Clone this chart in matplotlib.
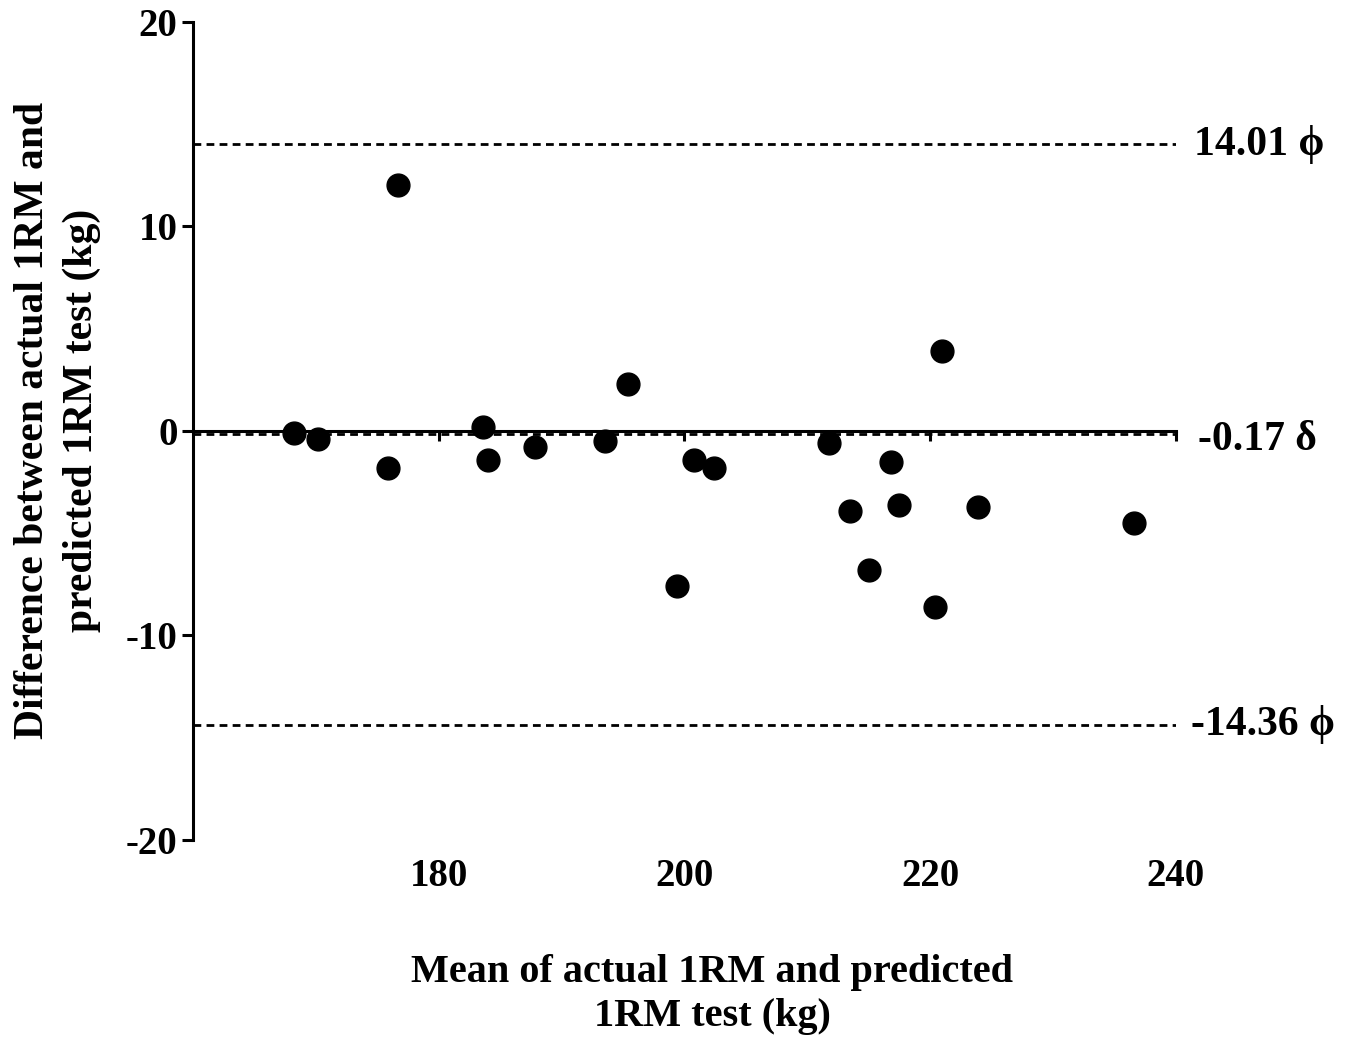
import matplotlib
matplotlib.use("Agg")
import matplotlib.pyplot as plt

plt.rcParams['font.family'] = ['Liberation Serif', 'DejaVu Serif']
plt.rcParams['font.weight'] = 'bold'

# Bland-Altman data
mean_kg = [168.2, 170.2, 175.9, 176.7, 183.6, 184.0, 187.8, 193.5, 195.4, 199.4, 200.8,
           202.4, 211.8, 213.5, 215.0, 216.8, 217.5, 220.4, 221.0, 223.9, 236.6]
diff_kg = [-0.1, -0.4, -1.8, 12.0, 0.2, -1.4, -0.8, -0.5, 2.3, -7.6, -1.4,
           -1.8, -0.6, -3.9, -6.8, -1.5, -3.6, -8.6, 3.9, -3.7, -4.5]

bias = -0.17
upper_loa = 14.01
lower_loa = -14.36

x_ticks = [180, 200, 220, 240]
y_ticks = [-20, -10, 0, 10, 20]

fig = plt.figure(figsize=(13.54, 10.37), dpi=100)
ax = fig.add_axes([0.1425, 0.19, 0.726, 0.789])

ax.set_xlim(160, 240)
ax.set_ylim(-20, 20)

# limit lines
dash = (0, (2.8, 1.9))
for val in [upper_loa, bias, lower_loa]:
    ax.plot([160, 240], [val, val], color='black', lw=2.0, linestyle=dash, zorder=2)

ax.scatter(mean_kg, diff_kg, s=270, color='black', zorder=3, clip_on=False)

# spines: left normal, bottom sits at y = 0
for s in ['top', 'right']:
    ax.spines[s].set_visible(False)
ax.spines['left'].set_linewidth(2.2)
ax.spines['bottom'].set_linewidth(2.2)
ax.spines['bottom'].set_position(('data', 0))

ax.set_yticks(y_ticks)
ax.set_yticklabels([str(v) for v in y_ticks])
ax.tick_params(axis='y', direction='out', length=8, width=2.2, labelsize=28, pad=3)
ax.set_xticks(x_ticks)
ax.tick_params(axis='x', direction='out', length=7, width=2.2, labelbottom=False)

# x tick labels at the bottom of the plot
for xv in x_ticks:
    ax.text(xv, -0.045, str(xv), transform=ax.get_xaxis_transform(),
            ha='center', va='center', fontsize=28, fontweight='bold')

# right side labels
ax.text(1.018, upper_loa, '14.01 \u03d5', transform=ax.get_yaxis_transform(),
        ha='left', va='center', fontsize=30, fontweight='bold', clip_on=False)
ax.text(1.022, bias - 0.3, '-0.17 \u03b4', transform=ax.get_yaxis_transform(),
        ha='left', va='center', fontsize=30, fontweight='bold', clip_on=False)
ax.text(1.015, lower_loa, '-14.36 \u03d5', transform=ax.get_yaxis_transform(),
        ha='left', va='center', fontsize=30, fontweight='bold', clip_on=False)

fig.text(0.0425, 0.595, 'Difference between actual 1RM and\npredicted 1RM test (kg)',
         rotation=90, ha='center', va='center', fontsize=30, fontweight='bold',
         linespacing=1.35)
fig.text(0.526, 0.041, 'Mean of actual 1RM and predicted\n1RM test (kg)',
         ha='center', va='center', fontsize=29, fontweight='bold', linespacing=1.25)

fig.savefig('out.png', dpi=100)
